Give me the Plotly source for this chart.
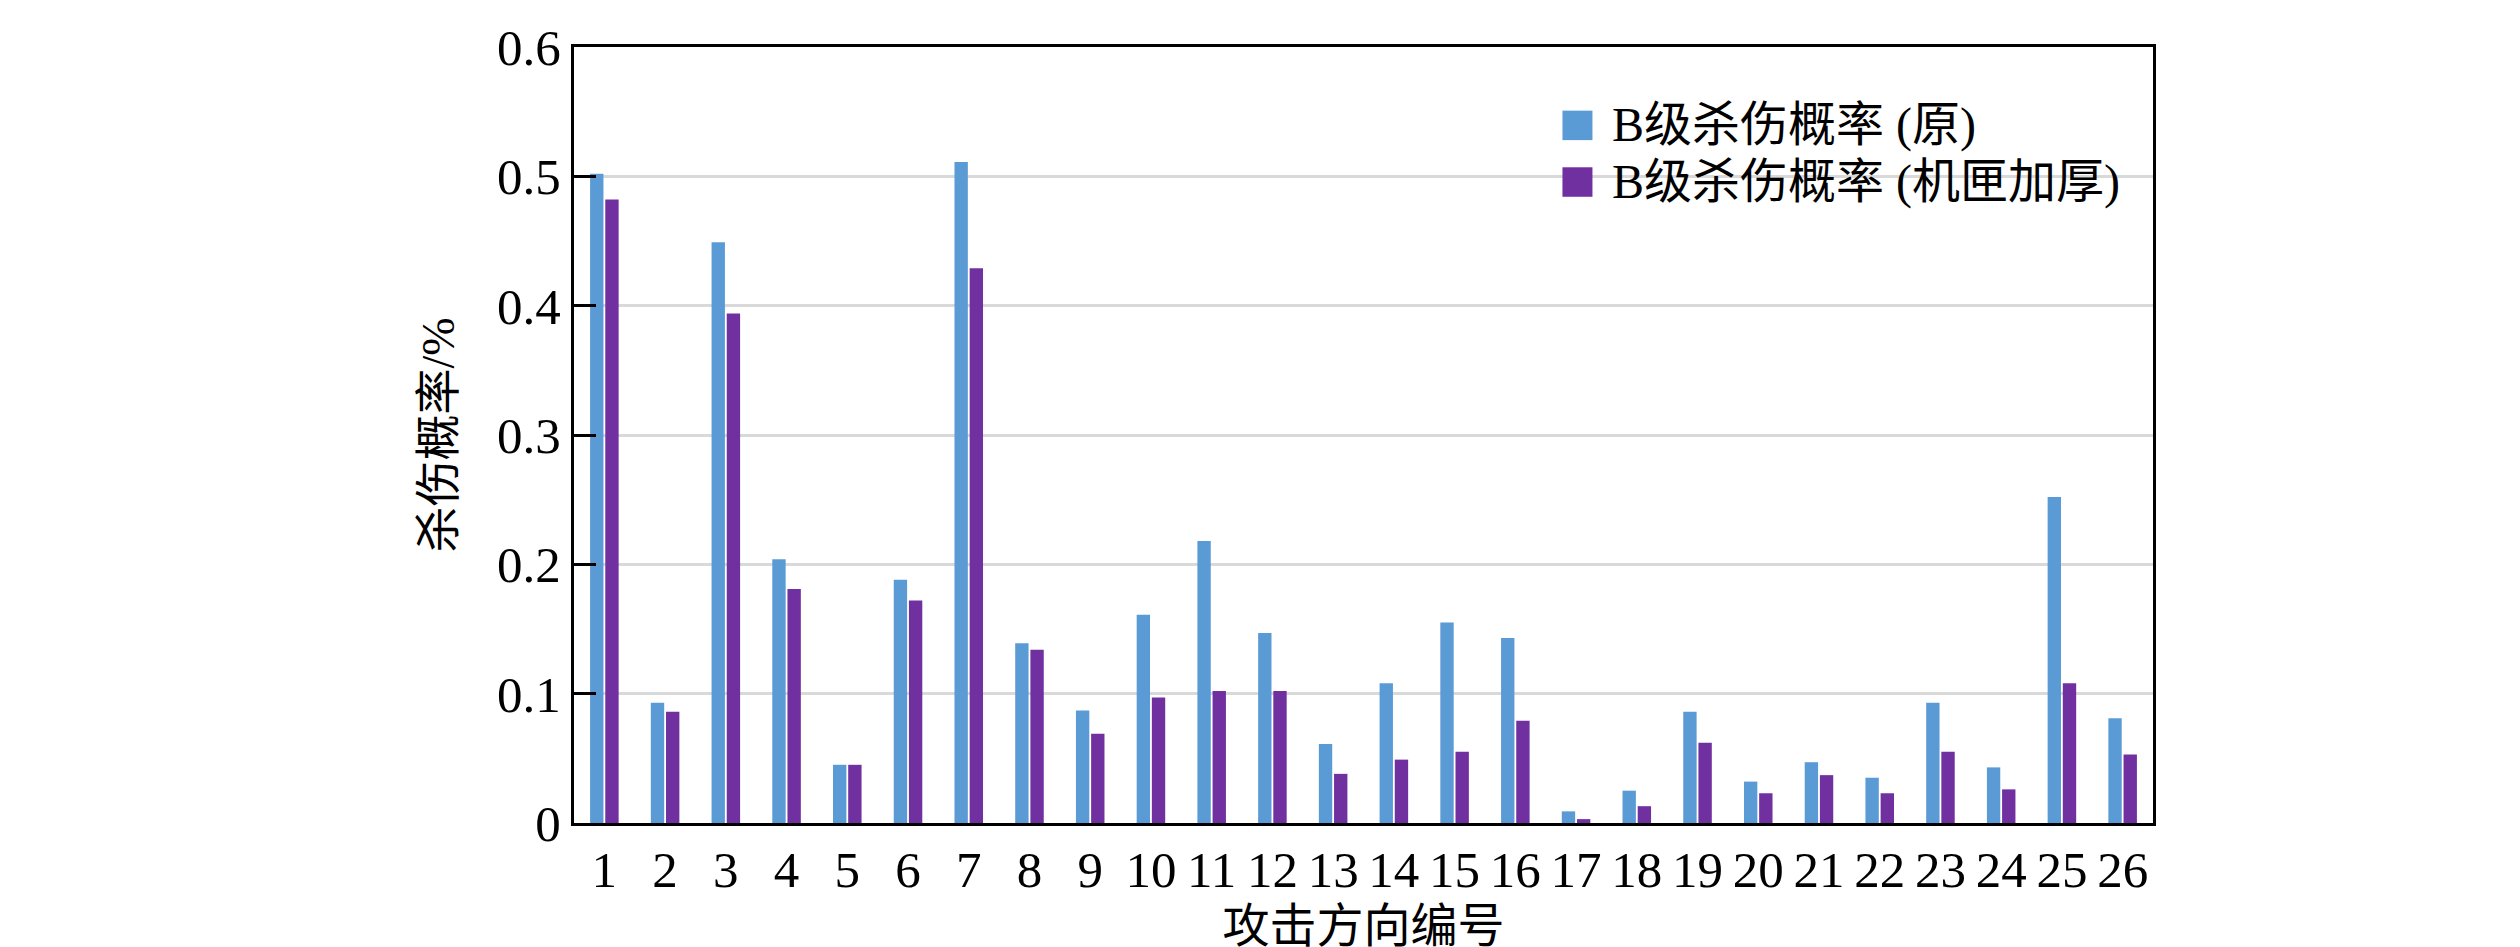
import plotly.graph_objects as go

# attack direction numbers
categories = ["1", "2", "3", "4", "5", "6", "7", "8", "9", "10", "11", "12", "13",
              "14", "15", "16", "17", "18", "19", "20", "21", "22", "23", "24", "25", "26"]

# B-level kill probability, original
kill_orig = [0.502, 0.093, 0.449, 0.204, 0.045, 0.188, 0.511, 0.139, 0.087, 0.161,
             0.218, 0.147, 0.061, 0.108, 0.155, 0.143, 0.009, 0.025, 0.086, 0.032,
             0.047, 0.035, 0.093, 0.043, 0.252, 0.081]

# B-level kill probability, thickened casing
kill_thick = [0.482, 0.086, 0.394, 0.181, 0.045, 0.172, 0.429, 0.134, 0.069, 0.097,
              0.102, 0.102, 0.038, 0.049, 0.055, 0.079, 0.003, 0.013, 0.062, 0.023,
              0.037, 0.023, 0.055, 0.026, 0.108, 0.053]

series_names = ["B级杀伤概率 (原)", "B级杀伤概率 (机匣加厚)"]
series_colors = ["#5B9BD5", "#7030A0"]

y_ticks = [0, 0.1, 0.2, 0.3, 0.4, 0.5, 0.6]
y_tick_text = ["0", "0.1", "0.2", "0.3", "0.4", "0.5", "0.6"]

FONT = "Liberation Serif, Times New Roman, Noto Sans CJK SC"

fig = go.Figure()
for name, vals, col in zip(series_names, [kill_orig, kill_thick], series_colors):
    fig.add_trace(go.Bar(
        x=categories,
        y=vals,
        name=name,
        marker=dict(color=col, line=dict(width=0)),
        showlegend=False,
    ))

# legend drawn by hand so the colour squares can be large
legend_rows = [0.899, 0.826]
fig.add_shape(type="rect", xref="paper", yref="paper",
              x0=0.6125, x1=0.9715, y0=0.770, y1=0.945,
              fillcolor="white", line=dict(width=0), layer="between")
for name, col, yc in zip(series_names, series_colors, legend_rows):
    fig.add_shape(type="rect", xref="paper", yref="paper",
                  x0=0.626, x1=0.645, y0=yc - 0.019, y1=yc + 0.019,
                  fillcolor=col, line=dict(width=0), layer="above")
    fig.add_annotation(x=0.656, y=yc, xref="paper", yref="paper",
                       text=name, showarrow=False, xanchor="left", yanchor="middle",
                       font=dict(size=48, color="black", family=FONT))

fig.update_layout(
    width=2520,
    height=947,
    margin=dict(l=566, r=375, t=23, b=131),
    paper_bgcolor="white",
    plot_bgcolor="white",
    barmode="group",
    bargap=0.5,
    bargroupgap=0.12,
    font=dict(family=FONT, size=48, color="black"),
)

fig.update_xaxes(
    showline=True, linecolor="black", linewidth=3, mirror=True,
    showgrid=False, ticks="", tickfont=dict(size=51),
    tickmode="array", tickvals=categories, ticktext=categories,
    title=dict(text="攻击方向编号", font=dict(size=47), standoff=12),
)
fig.update_yaxes(
    range=[0, 0.6], tickvals=y_ticks, ticktext=y_tick_text,
    showline=True, linecolor="black", linewidth=3, mirror=True,
    showgrid=True, gridcolor="#D9D9D9", gridwidth=3,
    ticks="inside", ticklen=22, tickwidth=2.5, tickcolor="black",
    tickfont=dict(size=51), zeroline=False, ticklabeloverflow="allow",
    title=dict(text="杀伤概率/%", font=dict(size=46), standoff=28),
)

fig.write_html("out.html")
